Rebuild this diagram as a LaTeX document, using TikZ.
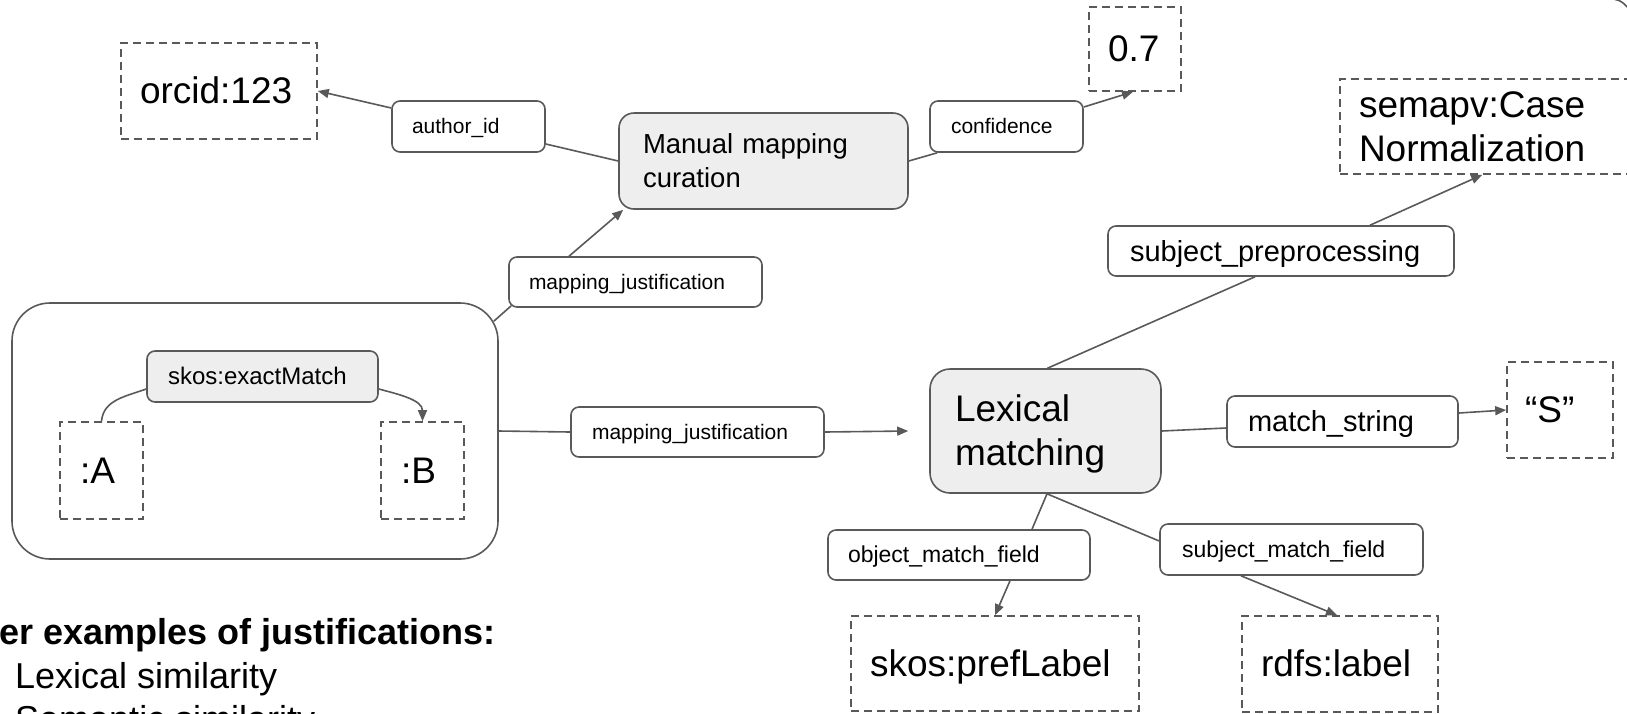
\documentclass[tikz,border=0pt]{standalone}
\usepackage{fontspec}
\setmainfont{Liberation Sans}
\usetikzlibrary{arrows.meta}
\definecolor{edge}{HTML}{595959}
\definecolor{shade}{HTML}{EEEEEE}
% strut with the font's ascent and descent, so text is centred on its line box
\newcommand\linestrut{\rule[-0.212em]{0pt}{1.117em}}
\tikzset{
  every node/.style={inner ysep=0pt, align=left, text=black},
  % width, height, side padding, text width (all in px = pt)
  box/.style n args={4}{minimum width=#1pt, minimum height=#2pt, inner xsep=#3pt, text width=#4pt,
    execute at begin node=\linestrut, execute at end node=\linestrut},
  tag/.style={draw=edge, line width=1.6pt, rounded corners=8pt, fill=white, font=\fontsize{21}{25}\selectfont},
  term/.style={draw=edge, line width=1.6pt, dash pattern=on 8pt off 5pt, font=\fontsize{37}{44}\selectfont},
  activity/.style={draw=edge, line width=1.6pt, fill=shade, rounded corners=15pt},
  wire/.style={draw=edge, line width=1.6pt},
  conn/.style={wire, -{Triangle[length=11pt,width=9pt]}},
}
\begin{document}
\begin{tikzpicture}[x=1pt,y=1pt]
\useasboundingbox (0,0) rectangle (1627,-713);
\clip (0,0) rectangle (1627,-713);

% --- the mapping being justified ---
\node[draw=edge, line width=1.6pt, rounded corners=38pt, minimum width=486pt, minimum height=256pt] (pair) at (255,-431) {};
\node[tag, fill=shade, font=\fontsize{24}{28}\selectfont, box={231}{51}{21}{189}] (exact) at (262.5,-376.5) {skos:exactMatch};
\node[term, box={83}{97}{20}{43}] (nodeA) at (101.5,-470.5) {:A};
\node[term, box={83}{97}{20}{43}] (nodeB) at (422.5,-470.5) {:B};

% --- manual curation branch ---
\node[activity, font=\fontsize{27.5}{34}\selectfont, box={289}{96}{24}{241}] (manual) at (763.5,-161) {Manual mapping\\\linestrut curation};
\node[tag, box={153}{51}{20}{113}] (author) at (468.5,-126.5) {author\_id};
\node[term, box={196}{96}{19}{158}] (orcid) at (219,-91) {orcid:123};
\node[tag, box={153}{51}{21}{111}] (conf) at (1006.5,-126.5) {confidence};
\node[term, box={92}{84}{19}{54}] (val) at (1135,-49) {0.7};
\node[tag, box={253}{50}{20}{213}] (mjup) at (635.5,-282) {mapping\_justification};

% --- lexical matching branch ---
\node[activity, rounded corners=20pt, font=\fontsize{37}{44}\selectfont, box={231}{124}{25}{181}] (lexical) at (1045.5,-431) {Lexical\\\linestrut matching};
\node[tag, box={253}{50}{21}{211}] (mjlow) at (697.5,-432) {mapping\_justification};
\node[tag, font=\fontsize{29}{34}\selectfont, box={346}{50}{22}{302}] (subjpre) at (1281,-251) {subject\_preprocessing};
\node[term, box={300}{95}{19}{262}] (semapv) at (1490,-126.5) {semapv:Case\\\linestrut Normalization};
\node[tag, font=\fontsize{29}{34}\selectfont, box={231}{51}{21}{189}] (mstring) at (1342.5,-421.5) {match\_string};
\node[term, box={106}{96}{18}{70}] (sval) at (1560,-410) {“S”};
\node[tag, font=\fontsize{23}{27}\selectfont, box={262}{50}{20}{222}] (omf) at (959,-555) {object\_match\_field};
\node[tag, font=\fontsize{23}{27}\selectfont, box={263}{51}{22}{219}] (smf) at (1291.5,-549.5) {subject\_match\_field};
\node[term, box={288}{95}{19}{250}] (pref) at (995,-663.5) {skos:prefLabel};
\node[term, box={196}{96}{19}{158}] (rdfs) at (1340,-664) {rdfs:label};

% --- connectors ---
\draw[wire] (nodeA.north) to[out=85,in=200] ([shift={(0,-12.5)}]exact.west);
\draw[conn] ([shift={(0,-12.5)}]exact.east) to[out=-15,in=90] (nodeB.north);

\draw[conn] ([shift={(0,18.5)}]author.west) -- (orcid.east);
\draw[wire] ([shift={(0,-17.5)}]author.east) -- (manual.west);
\draw[conn] ([shift={(-66.5,0)}]mjup.north) -- ([shift={(5,0)}]manual.south west);
\draw[wire] ([shift={(-5,-19)}]pair.north east) -- ([shift={(3,2)}]mjup.south west);
\draw[wire] (manual.east) -- ([shift={(8,0)}]conf.south west);
\draw[conn] ([shift={(0,19.5)}]conf.east) -- ([shift={(-2,0)}]val.south);

\draw[wire] (pair.east) -- (mjlow.west);
\draw[conn] (mjlow.east) -- ([shift={(-21,0)}]lexical.west);
\draw[wire] ([shift={(2,0)}]lexical.north) -- ([shift={(-26,0)}]subjpre.south);
\draw[conn] ([shift={(89,0)}]subjpre.north) -- ([shift={(143,0)}]semapv.south west);
\draw[wire] (lexical.east) -- ([shift={(0,-6.5)}]mstring.west);
\draw[conn] ([shift={(0,8.5)}]mstring.east) -- (sval.west);
\draw[wire] ([shift={(1.5,0)}]lexical.south) -- ([shift={(73,0)}]omf.north);
\draw[conn] ([shift={(51,0)}]omf.south) -- (pref.north);
\draw[wire] ([shift={(1.5,0)}]lexical.south) -- ([shift={(0,8.5)}]smf.west);
\draw[conn] ([shift={(-50.5,0)}]smf.south) -- ([shift={(-3,0)}]rdfs.north);

% corner of a shape beyond the top right edge
\draw[wire] (1615,0.5) .. controls (1620,0) and (1624,-3) .. (1629,-9);

% --- notes ---
\node[anchor=base west, inner sep=0pt, font=\bfseries\fontsize{36}{43}\selectfont] (otherhead) at (-63,-644) {Other examples of justifications:};
\node[anchor=base west, inner sep=0pt, font=\fontsize{36}{43}\selectfont] (item1) at (15,-688) {Lexical similarity};
\node[anchor=base west, inner sep=0pt, font=\fontsize{36}{43}\selectfont] (item2) at (15,-731) {Semantic similarity};
\end{tikzpicture}
\end{document}
